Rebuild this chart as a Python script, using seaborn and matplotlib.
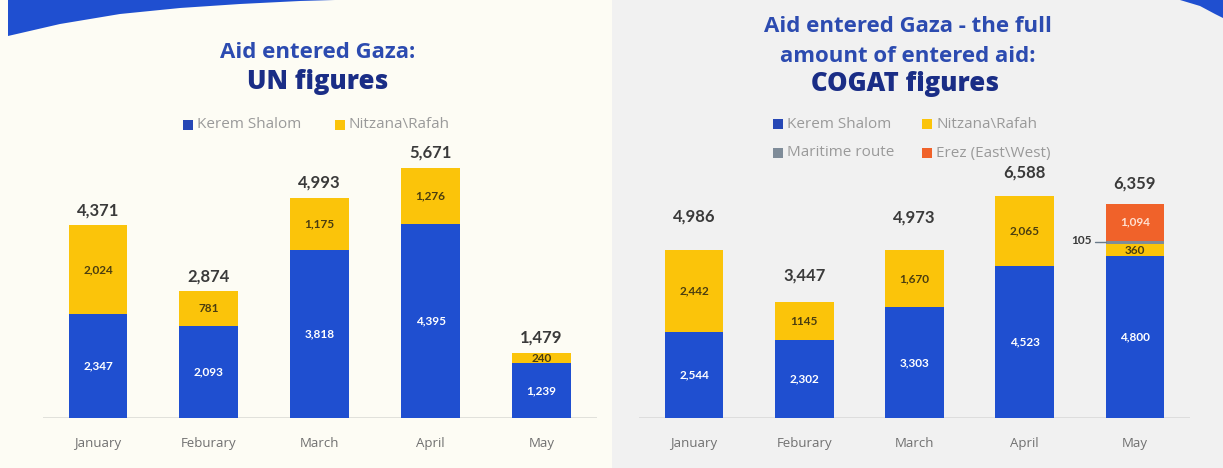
import matplotlib
matplotlib.use("Agg")
import matplotlib.pyplot as plt
import seaborn as sns
import pandas as pd
from matplotlib.patches import Polygon, Rectangle

sns.set_theme(style="white")
plt.rcParams['font.family'] = ['Lato', 'DejaVu Sans']

months = ["January", "Feburary", "March", "April", "May"]

# UN figures
un_kerem = [2347, 2093, 3818, 4395, 1239]
un_nitzana = [2024, 781, 1175, 1276, 240]
un_total = [4371, 2874, 4993, 5671, 1479]

# COGAT figures
cg_kerem = [2544, 2302, 3303, 4523, 4800]
cg_nitzana = [2442, 1145, 1670, 2065, 360]
cg_maritime = [0, 0, 0, 0, 105]
cg_erez = [0, 0, 0, 0, 1094]
cg_total = [4986, 3447, 4973, 6588, 6359]

cg_kerem_lbl = ["2,544", "2,302", "3,303", "4,523", "4,800"]
cg_nitzana_lbl = ["2,442", "1145", "1,670", "2,065", "360"]

BLUE = "#1f4fd0"
YELLOW = "#fbc40a"
GREY = "#7f8c99"
ORANGE = "#f0622a"
TITLE1 = "#2c4bb0"
TITLE2 = "#1a2d86"
TXT = "#3a3a3a"
TFONT = ['Open Sans', 'DejaVu Sans']

W, H = 1223, 468
fig = plt.figure(figsize=(W / 100, H / 100), dpi=100)


def fx(px):
    return px / W


def fy(py):
    return 1 - py / H


# backgrounds
fig.patches.append(Rectangle((0, 0), 612 / W, 1, transform=fig.transFigure,
                             facecolor="#fdfcf4", edgecolor="none", zorder=-5))
fig.patches.append(Rectangle((612 / W, 0), 1 - 612 / W, 1, transform=fig.transFigure,
                             facecolor="#f1f1f1", edgecolor="none", zorder=-5))

# decorative swooshes
sw1 = [(8, 0), (8, 36), (60, 24), (120, 14), (180, 8), (240, 4), (300, 1), (335, 0)]
fig.patches.append(Polygon([(fx(a), fy(b)) for a, b in sw1], closed=True,
                           transform=fig.transFigure, facecolor="#1f4fd0",
                           edgecolor="none", zorder=-4))
sw2 = [(1180, 0), (1200, 6), (1215, 14), (1223, 18), (1223, 0)]
fig.patches.append(Polygon([(fx(a), fy(b)) for a, b in sw2], closed=True,
                           transform=fig.transFigure, facecolor="#1f4fd0",
                           edgecolor="none", zorder=-4))

base_px = 418
top_px = 140
ax1 = fig.add_axes([fx(42.5), (H - base_px) / H, 554.5 / W, (base_px - top_px) / H])
ax2 = fig.add_axes([fx(639), (H - base_px) / H, 551 / W, (base_px - top_px) / H])

for ax in (ax1, ax2):
    ax.set_facecolor("none")
    for s in ax.spines.values():
        s.set_visible(False)

bw = 0.53
sc1 = 0.0441  # px per unit, left
sc2 = 0.0337  # px per unit, right

# ---- Left: UN ----
df_un = pd.DataFrame({"month": months, "kerem": un_kerem, "nitzana": un_nitzana})
sns.barplot(data=df_un, x="month", y="kerem", color=BLUE, width=bw, ax=ax1,
            saturation=1, edgecolor="none")
sns.barplot(data=df_un, x="month", y="nitzana", bottom=un_kerem, color=YELLOW,
            width=bw, ax=ax1, saturation=1, edgecolor="none")
ax1.set_xlim(-0.5, 4.5)
ax1.set_ylim(0, (base_px - top_px) / sc1)
ax1.axhline(0, color="#dcdcd6", lw=1.2, zorder=0)

for i in range(5):
    ax1.text(i, un_kerem[i] / 2, f"{un_kerem[i]:,}", ha="center", va="center",
             color="white", fontsize=8.5, fontweight="bold")
    ax1.text(i, un_kerem[i] + un_nitzana[i] / 2, f"{un_nitzana[i]:,}", ha="center",
             va="center", color="#4a3d10", fontsize=8.5, fontweight="bold")
    ax1.text(i, un_total[i] + 15 / sc1, f"{un_total[i]:,}", ha="center", va="center",
             color=TXT, fontsize=12, fontweight="bold")

# ---- Right: COGAT ----
b2 = [k + n for k, n in zip(cg_kerem, cg_nitzana)]
b3 = [a + m for a, m in zip(b2, cg_maritime)]
df_cg = pd.DataFrame({"month": months, "kerem": cg_kerem, "nitzana": cg_nitzana,
                      "maritime": cg_maritime, "erez": cg_erez})
sns.barplot(data=df_cg, x="month", y="kerem", color=BLUE, width=bw, ax=ax2,
            saturation=1, edgecolor="none")
sns.barplot(data=df_cg, x="month", y="nitzana", bottom=cg_kerem, color=YELLOW,
            width=bw, ax=ax2, saturation=1, edgecolor="none")
sns.barplot(data=df_cg, x="month", y="maritime", bottom=b2, color=GREY,
            width=bw, ax=ax2, saturation=1, edgecolor="none")
sns.barplot(data=df_cg, x="month", y="erez", bottom=b3, color=ORANGE,
            width=bw, ax=ax2, saturation=1, edgecolor="none")
ax2.set_xlim(-0.5, 4.5)
ax2.set_ylim(0, (base_px - top_px) / sc2)
ax2.axhline(0, color="#dadada", lw=1.2, zorder=0)

gap2 = [33, 26, 33, 23, 20]  # label gap above bars (px)
for i in range(5):
    ax2.text(i, cg_kerem[i] / 2, cg_kerem_lbl[i], ha="center", va="center",
             color="white", fontsize=8.5, fontweight="bold")
    ax2.text(i, cg_kerem[i] + cg_nitzana[i] / 2, cg_nitzana_lbl[i], ha="center",
             va="center", color="#4a3d10", fontsize=8.5, fontweight="bold")
    ax2.text(i, cg_total[i] + gap2[i] / sc2, f"{cg_total[i]:,}", ha="center",
             va="center", color=TXT, fontsize=12, fontweight="bold")
    if cg_erez[i]:
        ax2.text(i, b3[i] + cg_erez[i] / 2, f"{cg_erez[i]:,}", ha="center",
                 va="center", color="#ffe0d0", fontsize=8.5, fontweight="bold")
    if cg_maritime[i]:
        ax2.plot([i - 0.36, i - bw / 2], [b2[i] + cg_maritime[i] / 2] * 2,
                 color="#6a7a8a", lw=1)
        ax2.text(i - 0.39, b2[i] + cg_maritime[i] / 2 + 60, f"{cg_maritime[i]}",
                 ha="right", va="center", color=TXT, fontsize=8.5, fontweight="bold")

for ax in (ax1, ax2):
    ax.set_xlabel("")
    ax.set_ylabel("")
    ax.set_yticks([])
    ax.tick_params(axis="x", length=0, pad=14, labelsize=9.5, colors="#707070")
    for t in ax.get_xticklabels():
        t.set_family(TFONT)

# ---- titles ----
fig.text(fx(318), fy(52), "Aid entered Gaza:", ha="center", va="center",
         fontsize=16, fontweight="bold", color=TITLE1, family=TFONT)
fig.text(fx(318), fy(82), "UN figures", ha="center", va="center",
         fontsize=18.5, fontweight="heavy", color=TITLE2, family=TFONT)

fig.text(fx(908), fy(27), "Aid entered Gaza - the full", ha="center", va="center",
         fontsize=16, fontweight="bold", color=TITLE1, family=TFONT)
fig.text(fx(908), fy(56), "amount of entered aid:", ha="center", va="center",
         fontsize=16, fontweight="bold", color=TITLE1, family=TFONT)
fig.text(fx(905), fy(84), "COGAT figures", ha="center", va="center",
         fontsize=18.5, fontweight="heavy", color=TITLE2, family=TFONT)


# ---- legends ----
def legend_item(x, y, color, label):
    fig.patches.append(Rectangle((fx(x), fy(y + 5)), 10 / W, 10 / H,
                                 transform=fig.transFigure, facecolor=color,
                                 edgecolor="none", zorder=3))
    fig.text(fx(x + 14), fy(y), label, ha="left", va="center", fontsize=11,
             color="#9a9a9a", family=TFONT)


legend_item(183, 125, "#2647b5", "Kerem Shalom")
legend_item(335, 125, YELLOW, "Nitzana\\Rafah")

legend_item(773, 124, "#2647b5", "Kerem Shalom")
legend_item(922, 124, YELLOW, "Nitzana\\Rafah")
legend_item(773, 153, GREY, "Maritime route")
legend_item(922, 153, ORANGE, "Erez (East\\West)")

fig.savefig("out.png", dpi=100)
